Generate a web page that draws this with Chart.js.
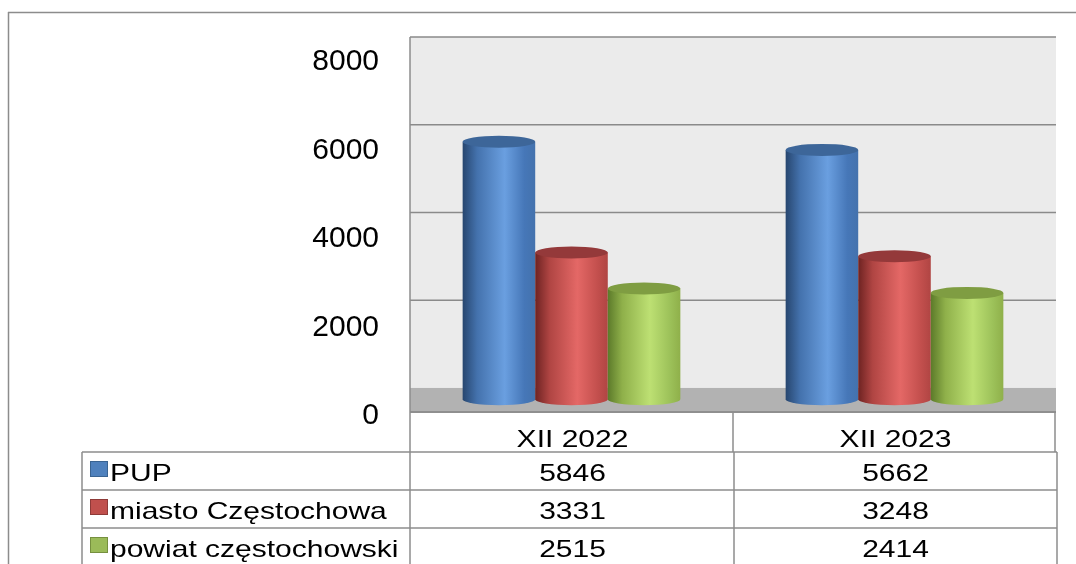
<!DOCTYPE html>
<html lang="pl">
<head>
<meta charset="utf-8">
<script src="https://cdn.jsdelivr.net/npm/chart.js@4/dist/chart.umd.min.js"></script>
<style>
    html, body { margin: 0; padding: 0; background: #ffffff; }
    #wykres { display: block; }
</style>
</head>
<body>
<canvas id="wykres" width="1076" height="564"></canvas>
<script>
var kategorie = ['XII 2022', 'XII 2023'];
var nazwySerii = ['PUP', 'miasto Częstochowa', 'powiat częstochowski'];
var wartosciPup = [5846, 5662];
var wartosciMiasto = [3331, 3248];
var wartosciPowiat = [2515, 2414];
var osYMin = 0;
var osYMax = 8000;
var osYKrok = 2000;

(function () {
    var czcionka = '"Liberation Sans", Arial, sans-serif';
    var rozciagniecie = 1.25;

    var kolory = [
        { ciemny: '#27466f', srodek: '#4472ad', jasny: '#6a9fe0', prawy: '#4677b8', gora: '#3d6699', znak: '#4f81bd', ramka: '#3a6492' },
        { ciemny: '#6e2322', srodek: '#b04543', jasny: '#e46866', prawy: '#c4504e', gora: '#94393a', znak: '#c0504d', ramka: '#8e3a38' },
        { ciemny: '#5c7a2a', srodek: '#8fb04a', jasny: '#bde073', prawy: '#9dc25a', gora: '#7f9d42', znak: '#9bbb59', ramka: '#76903f' }
    ];

    // sciana tylna jest przesunieta do gory wzgledem plaszczyzny przedniej
    function yTyl(yPrzod) {
        return 0.9915 * yPrzod - 24.5;
    }

    function ySrodek(yPrzod) {
        return 0.4 * yPrzod + 0.6 * yTyl(yPrzod);
    }

    function tekst(ctx, napis, x, y, wyrownanie) {
        ctx.save();
        ctx.translate(x, y);
        ctx.scale(rozciagniecie, 1);
        ctx.textAlign = wyrownanie;
        ctx.textBaseline = 'alphabetic';
        ctx.fillStyle = '#000000';
        ctx.font = '24px ' + czcionka;
        ctx.fillText(napis, 0, 0);
        ctx.restore();
    }

    function linia(ctx, x0, y0, x1, y1) {
        ctx.beginPath();
        ctx.moveTo(x0, y0);
        ctx.lineTo(x1, y1);
        ctx.stroke();
    }

    function rysujCylinder(ctx, x0, x1, yGora, yPodstawa, kolor) {
        var cx = (x0 + x1) / 2;
        var rx = (x1 - x0) / 2;
        var ry = 6;

        var grad = ctx.createLinearGradient(x0, 0, x1, 0);
        grad.addColorStop(0, kolor.ciemny);
        grad.addColorStop(0.2, kolor.srodek);
        grad.addColorStop(0.58, kolor.jasny);
        grad.addColorStop(0.85, kolor.prawy);
        grad.addColorStop(1, kolor.srodek);

        ctx.save();
        ctx.beginPath();
        ctx.moveTo(x0, yGora);
        ctx.lineTo(x0, yPodstawa);
        ctx.ellipse(cx, yPodstawa, rx, ry, 0, Math.PI, 0, true);
        ctx.lineTo(x1, yGora);
        ctx.closePath();
        ctx.fillStyle = grad;
        ctx.fill();

        ctx.beginPath();
        ctx.ellipse(cx, yGora, rx, ry, 0, 0, Math.PI * 2);
        ctx.fillStyle = kolor.gora;
        ctx.fill();
        ctx.restore();
    }

    var tloPlugin = {
        id: 'tlo3d',
        beforeDraw: function (chart) {
            var ctx = chart.ctx;
            var obszar = chart.chartArea;
            var skalaY = chart.scales.y;
            var yZero = skalaY.getPixelForValue(osYMin);

            ctx.save();
            ctx.fillStyle = '#ffffff';
            ctx.fillRect(0, 0, chart.width, chart.height);

            // ramka wykresu
            ctx.strokeStyle = '#8c8c8c';
            ctx.lineWidth = 1.5;
            linia(ctx, 8.5, 12, 8.5, chart.height);
            linia(ctx, 8, 12.5, chart.width, 12.5);

            // sciana tylna
            var gora = yTyl(skalaY.getPixelForValue(osYMax));
            var dol = yTyl(yZero);
            ctx.fillStyle = '#ebebeb';
            ctx.fillRect(obszar.left, gora, obszar.right - obszar.left, dol - gora);

            ctx.strokeStyle = '#8a8a8a';
            ctx.lineWidth = 1.5;
            for (var v = osYMin + osYKrok; v <= osYMax; v += osYKrok) {
                var yl = yTyl(skalaY.getPixelForValue(v));
                linia(ctx, obszar.left, yl, obszar.right, yl);
            }

            // podloga
            ctx.fillStyle = '#b2b2b2';
            ctx.fillRect(obszar.left, dol, obszar.right - obszar.left, yZero - 3 - dol);
            ctx.strokeStyle = '#8f8f8f';
            ctx.lineWidth = 2;
            linia(ctx, obszar.left, yZero - 4, obszar.right, yZero - 4);

            ctx.strokeStyle = '#8c8c8c';
            ctx.lineWidth = 1.5;
            linia(ctx, obszar.left, gora, obszar.left, chart.height);
            ctx.restore();
        },
        afterDatasetsDraw: function (chart) {
            var ctx = chart.ctx;
            chart.data.datasets.forEach(function (zestaw, i) {
                var meta = chart.getDatasetMeta(i);
                meta.data.forEach(function (slupek) {
                    var x0 = slupek.x - slupek.width / 2;
                    var x1 = slupek.x + slupek.width / 2;
                    rysujCylinder(ctx, x0, x1, ySrodek(slupek.y), ySrodek(slupek.base), kolory[i]);
                });
            });
        },
        afterDraw: function (chart) {
            var ctx = chart.ctx;
            var obszar = chart.chartArea;
            var skalaX = chart.scales.x;
            var lewa = 82;
            var prawa = obszar.right + 1;
            var srodek = (obszar.left + obszar.right) / 2;
            var wiersze = [452, 490, 528, 566];

            ctx.save();
            ctx.strokeStyle = '#8c8c8c';
            ctx.lineWidth = 1.5;

            // naglowek kategorii
            linia(ctx, srodek, obszar.bottom - 4, srodek, wiersze[0]);
            linia(ctx, obszar.right - 1, obszar.bottom - 4, obszar.right - 1, wiersze[0]);
            kategorie.forEach(function (kat, k) {
                tekst(ctx, kat, skalaX.getPixelForValue(k) + 1, 447, 'center');
            });

            // wiersze z danymi
            wiersze.forEach(function (y) {
                linia(ctx, lewa, y, prawa, y);
            });
            linia(ctx, lewa, wiersze[0], lewa, chart.height);
            linia(ctx, srodek + 1, wiersze[0], srodek + 1, chart.height);
            linia(ctx, prawa, wiersze[0], prawa, chart.height);

            chart.data.datasets.forEach(function (zestaw, i) {
                var bazowa = wiersze[i] + 29;
                ctx.fillStyle = kolory[i].znak;
                ctx.fillRect(91, wiersze[i] + 10, 16, 14);
                ctx.strokeStyle = kolory[i].ramka;
                ctx.lineWidth = 1;
                ctx.strokeRect(90.5, wiersze[i] + 9.5, 17, 15);

                tekst(ctx, zestaw.label, 110, bazowa, 'left');
                zestaw.data.forEach(function (wartosc, k) {
                    tekst(ctx, String(wartosc), skalaX.getPixelForValue(k) + 1, bazowa, 'center');
                });
            });
            ctx.restore();
        }
    };

    var zbiory = [wartosciPup, wartosciMiasto, wartosciPowiat].map(function (dane, i) {
        return {
            label: nazwySerii[i],
            data: dane,
            backgroundColor: 'rgba(0,0,0,0)',
            borderWidth: 0,
            barPercentage: 1,
            categoryPercentage: 0.674
        };
    });

    new Chart(document.getElementById('wykres').getContext('2d'), {
        type: 'bar',
        data: {
            labels: kategorie,
            datasets: zbiory
        },
        options: {
            responsive: false,
            animation: false,
            devicePixelRatio: 1,
            layout: {
                padding: { left: 0, right: 20, top: 62, bottom: 148 }
            },
            plugins: {
                legend: { display: false },
                tooltip: { enabled: false }
            },
            scales: {
                x: {
                    display: false,
                    offset: true
                },
                y: {
                    min: osYMin,
                    max: osYMax,
                    afterFit: function (skala) {
                        skala.width = 410;
                    },
                    grid: { display: false, drawTicks: false },
                    border: { display: false },
                    ticks: {
                        stepSize: osYKrok,
                        padding: 31,
                        color: '#000000',
                        font: { family: czcionka, size: 30 },
                        callback: function (wartosc) {
                            return String(wartosc);
                        }
                    }
                }
            }
        },
        plugins: [tloPlugin]
    });
})();
</script>
</body>
</html>
